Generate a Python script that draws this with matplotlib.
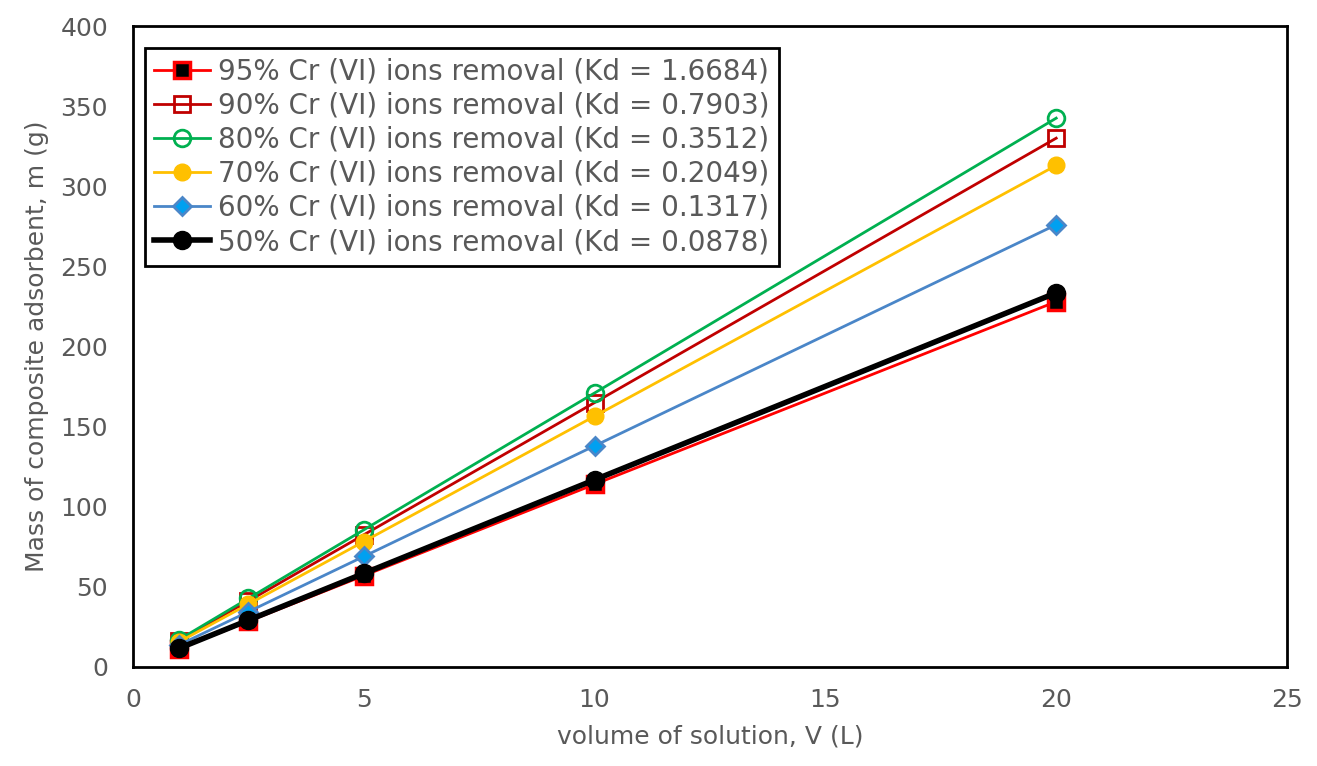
import matplotlib.pyplot as plt

plt.rcParams.update({
    "font.family": ["DejaVu Sans"],
    "font.size": 17,
    "text.color": "#595959",
    "axes.labelcolor": "#595959",
    "xtick.color": "#595959",
    "ytick.color": "#595959",
})

volume = [1, 2.5, 5, 10, 20]

m_95 = [11.4, 28.5, 57, 114, 228]
m_90 = [16.5, 41.2, 82.5, 165, 330]
m_80 = [17.1, 42.8, 85.6, 171, 342.5]
m_70 = [15.7, 39.2, 78.3, 156.5, 313]
m_60 = [13.8, 34.5, 69, 138, 276]
m_50 = [11.7, 29.2, 58.4, 116.8, 233.5]

labels = [
    "95% Cr (VI) ions removal (Kd = 1.6684)",
    "90% Cr (VI) ions removal (Kd = 0.7903)",
    "80% Cr (VI) ions removal (Kd = 0.3512)",
    "70% Cr (VI) ions removal (Kd = 0.2049)",
    "60% Cr (VI) ions removal (Kd = 0.1317)",
    "50% Cr (VI) ions removal (Kd = 0.0878)",
]

fig = plt.figure(figsize=(13.17, 7.66), dpi=100)
ax = fig.add_axes([133 / 1317, 1 - 667 / 766, (1287 - 133) / 1317, (667 - 26) / 766])

ax.plot(volume, m_95, color="#FF0000", lw=2, marker="s", ms=11,
        mfc="black", mec="#FF0000", mew=2.5, label=labels[0])
ax.plot(volume, m_90, color="#C00000", lw=2, marker="s", ms=12,
        mfc="none", mec="#C00000", mew=2, label=labels[1])
ax.plot(volume, m_80, color="#00B050", lw=2, marker="o", ms=12,
        mfc="none", mec="#00B050", mew=2, label=labels[2])
ax.plot(volume, m_70, color="#FFC000", lw=2, marker="o", ms=12,
        mfc="#FFC000", mec="#FFC000", label=labels[3])
ax.plot(volume, m_60, color="#4A86C8", lw=2, marker="D", ms=9,
        mfc="#00A0F0", mec="#4A86C8", mew=2, label=labels[4])
ax.plot(volume, m_50, color="black", lw=4, marker="o", ms=13,
        mfc="black", mec="black", label=labels[5])

ax.set_xlim(0, 25)
ax.set_ylim(0, 400)
ax.set_xticks(range(0, 26, 5))
ax.set_yticks(range(0, 401, 50))
ax.tick_params(length=0, labelsize=18)
ax.tick_params(axis="x", pad=15)
ax.tick_params(axis="y", pad=18)

for s in ax.spines.values():
    s.set_linewidth(2)
    s.set_color("black")

ax.set_xlabel("volume of solution, V (L)", fontsize=18, labelpad=9)
ax.set_ylabel("Mass of composite adsorbent, m (g)", fontsize=18, labelpad=8)

leg = ax.legend(loc="upper left", bbox_to_anchor=(0.01, 0.966), fontsize=20,
                fancybox=False, framealpha=1, edgecolor="black",
                handlelength=2.0, handletextpad=0.3, labelspacing=0.22,
                borderpad=0.35, borderaxespad=0)
leg.get_frame().set_linewidth(2)
for t in leg.get_texts():
    t.set_color("#595959")

fig.savefig("out.png", dpi=100)
